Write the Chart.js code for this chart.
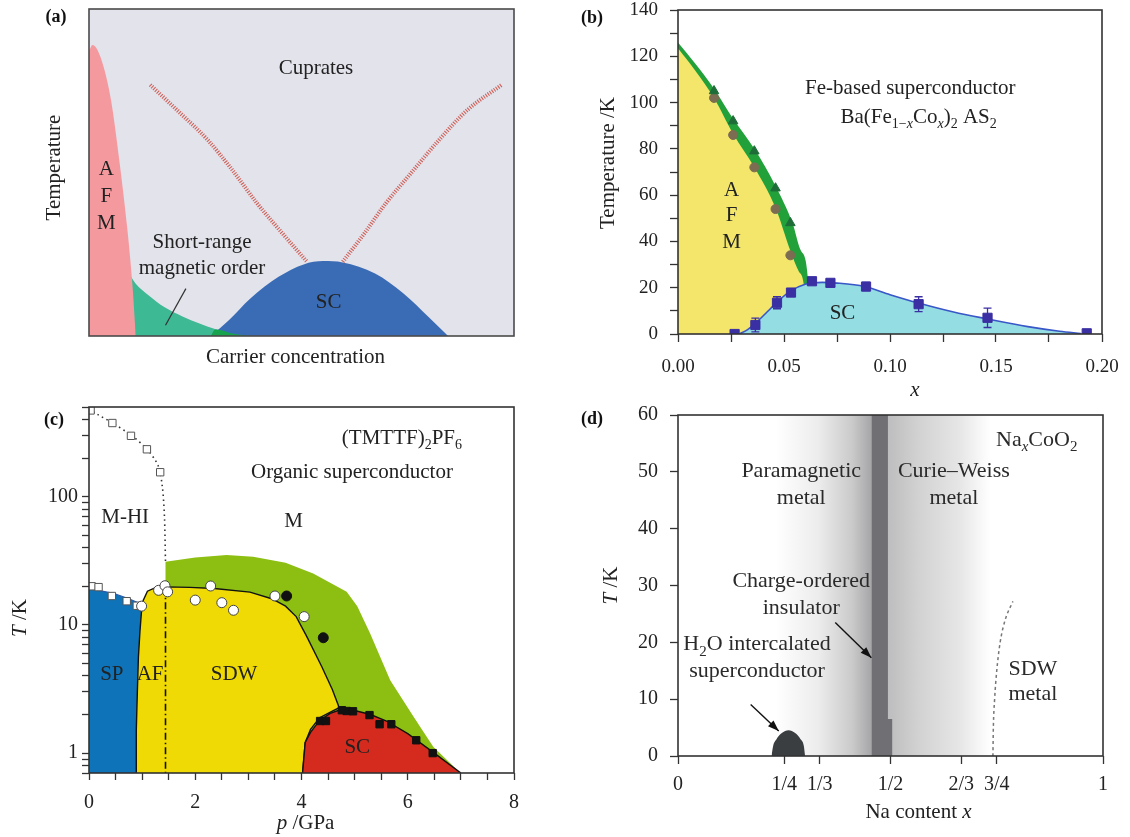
<!DOCTYPE html>
<html>
<head>
<meta charset="utf-8">
<script src="https://cdn.jsdelivr.net/npm/chart.js@4.4.1/dist/chart.umd.min.js"></script>
<style>
  body { margin: 0; background: #fff; width: 1130px; height: 837px; position: relative; overflow: hidden; }
  canvas { position: absolute; }
</style>
</head>
<body>
<canvas id="chartA" width="565" height="405" style="left:0;top:0"></canvas>
<canvas id="chartB" width="565" height="405" style="left:565px;top:0"></canvas>
<canvas id="chartC" width="565" height="447" style="left:0;top:390px"></canvas>
<canvas id="chartD" width="565" height="447" style="left:565px;top:390px"></canvas>
<script>
// (a) cuprates - schematic, axes in arbitrary units 0..1
const cupAfmX = [0, 0.008, 0.02, 0.035, 0.052, 0.073, 0.09, 0.102, 0.11];
const cupAfmY = [0.87, 0.89, 0.875, 0.82, 0.72, 0.52, 0.33, 0.16, 0];
const cupSroX = [0.09, 0.11, 0.14, 0.178, 0.22, 0.26, 0.30, 0.34, 0.38];
const cupSroY = [0.2, 0.16, 0.125, 0.088, 0.06, 0.038, 0.02, 0.007, 0];
const cupMixX = [0.287, 0.295, 0.30, 0.34, 0.38];
const cupMixY = [0, 0.018, 0.02, 0.007, 0];
const cupScX = [0.287, 0.329, 0.379, 0.446, 0.505, 0.551, 0.597, 0.673, 0.74, 0.799, 0.845];
const cupScY = [0, 0.048, 0.114, 0.181, 0.219, 0.229, 0.225, 0.191, 0.13, 0.058, 0];
const cupPgLX = [0.144, 0.211, 0.279, 0.337, 0.396, 0.455, 0.513];
const cupPgLY = [0.768, 0.686, 0.6, 0.508, 0.405, 0.314, 0.227];
const cupPgRX = [0.597, 0.648, 0.698, 0.757, 0.824, 0.891, 0.971];
const cupPgRY = [0.227, 0.314, 0.405, 0.497, 0.6, 0.692, 0.768];

// (b) Ba(Fe1-xCox)2As2
const fePtX = [0.017, 0.026, 0.036, 0.046, 0.053];
const feTnY = [102, 86, 72, 54, 34];
const feTsY = [105, 92, 79, 63, 48];
const feTnLineX = [0, 0.008, 0.017, 0.026, 0.036, 0.046, 0.053, 0.057, 0.0595, 0.0605];
const feTnLineY = [123.5, 114, 102, 86.5, 72, 54.5, 36, 27, 20, 0];
const feTsLineX = [0, 0.008, 0.017, 0.026, 0.036, 0.046, 0.054, 0.058, 0.0615, 0.062];
const feTsLineY = [126, 117, 106, 93, 80, 64, 48, 36, 22, 0];
const feScX = [0.0267, 0.0365, 0.0467, 0.0533, 0.0632, 0.0719, 0.0887, 0.1135, 0.146, 0.1928];
const feScY = [0, 3.9, 13.5, 17.9, 22.8, 22.1, 20.5, 12.9, 7.0, 0.3];
const feScErr = [0, 3, 2.6, 0.8, 1, 0.8, 1.8, 3.2, 4.2, 0];
const feScLineX = [0.029, 0.033, 0.037, 0.042, 0.047, 0.053, 0.06, 0.068, 0.075, 0.088, 0.1, 0.113, 0.13, 0.146, 0.165, 0.18, 0.19];
const feScLineY = [0, 2, 5, 9.5, 14, 18.5, 21.5, 22.3, 22, 20.5, 17, 13.5, 9.5, 6.5, 3.2, 1.2, 0.2];

// (c) (TMTTF)2PF6, log temperature
const orgLogTicks = [0.7, 0.8, 0.9, 1, 2, 3, 4, 5, 6, 7, 8, 9, 10, 20, 30, 40, 50, 60, 70, 80, 90, 100, 200, 300, 400, 500];
const orgLogLabels = [1, 10, 100];
const orgMX = [1.44, 1.44, 2.0, 2.59, 3.09, 3.7, 4.22, 4.85, 5.05, 5.29, 5.67, 6.11, 6.48, 6.99, 1.44];
const orgMY = [0.7, 31, 33.5, 35, 34, 30.5, 25.2, 18.1, 14, 8.6, 3.7, 1.92, 1.12, 0.7, 0.7];
const orgSpX = [0, 0.2, 0.46, 0.75, 0.96, 1.05, 1.05, 0];
const orgSpY = [19.3, 18.5, 17.6, 16, 14.7, 14.2, 0.7, 0.7];
const orgSdwX = [0.885, 0.89, 0.91, 0.93, 0.96, 0.99, 1.02, 1.1, 1.25, 1.44, 1.9, 2.36, 3.03, 3.44, 3.7, 3.9, 4.1, 4.38, 4.58, 4.71, 4.58, 4.34, 4.17, 4.07, 4.02];
const orgSdwY = [0.7, 1.5, 3, 5.6, 9, 13, 15.5, 18.3, 19.5, 19.8, 19.6, 19.2, 18.0, 16.0, 14.0, 11.6, 8.1, 4.74, 3.13, 2.26, 2.13, 1.89, 1.53, 1.21, 0.7];
const orgScX = [4.02, 4.07, 4.17, 4.34, 4.54, 4.73, 5.0, 5.3, 5.6, 6.0, 6.5, 7.0];
const orgScY = [0.7, 1.21, 1.45, 1.8, 2.04, 2.18, 2.15, 2.0, 1.78, 1.42, 1.0, 0.7];
const orgHiX = [0, 0.15, 0.42, 0.8, 1.09, 1.3, 1.38, 1.42, 1.44];
const orgHiY = [480, 440, 380, 300, 235, 175, 120, 70, 31];
const orgAfX = [1.44, 1.44];
const orgAfY = [19.5, 0.7];
const orgOpenSqX = [0.03, 0.44, 0.79, 1.09, 1.34, 0.05, 0.18, 0.43, 0.71, 0.9];
const orgOpenSqY = [470, 375, 298, 234, 155, 20, 19.7, 16.8, 15.3, 14.1];
const orgOpenCircX = [0.99, 1.31, 1.43, 1.48, 2.0, 2.29, 2.5, 2.72, 3.5, 4.05];
const orgOpenCircY = [14.0, 18.6, 20.2, 18.1, 15.6, 20.1, 14.9, 13.0, 16.8, 11.6];
const orgFullCircX = [3.72, 4.41];
const orgFullCircY = [16.8, 7.94];
const orgFullSqX = [4.35, 4.46, 4.76, 4.85, 4.97, 5.28, 5.47, 5.69, 6.16, 6.47];
const orgFullSqY = [1.78, 1.78, 2.16, 2.13, 2.12, 1.98, 1.68, 1.68, 1.26, 1.0];

// (d) NaxCoO2
const naTickX = [0, 0.25, 1 / 3, 0.5, 2 / 3, 0.75, 1];
const naTickLabels = ['0', '1/4', '1/3', '1/2', '2/3', '3/4', '1'];
const naParaX = [0.23, 0.23, 0.455, 0.455];
const naParaY = [0, 60, 60, 0];
const naCurieX = [0.494, 0.494, 0.735, 0.735];
const naCurieY = [0, 60, 60, 0];
const naCoX = [0.455, 0.455, 0.494, 0.494, 0.504, 0.504];
const naCoY = [0, 60, 60, 6.5, 6.5, 0];
const naScX = [0.22, 0.224, 0.232, 0.242, 0.252, 0.26, 0.268, 0.278, 0.288, 0.296, 0.299];
const naScY = [0, 1.8, 3.0, 3.9, 4.4, 4.55, 4.4, 3.9, 3.0, 1.8, 0];
const naSdwX = [0.741, 0.742, 0.745, 0.75, 0.758, 0.77, 0.788];
const naSdwY = [0, 5, 10, 15, 20, 24, 27.2];

const serif = '"Liberation Serif", "Times New Roman", Times, serif';

function xy(xs, ys) { return xs.map((x, i) => ({ x: x, y: ys[i] })); }

// first dataset in the list is painted first (bottom)
function stack(list) {
  list.forEach((d, i) => { d.order = list.length - i; });
  return list;
}
function area(xs, ys, color, fill, extra) {
  return Object.assign({ data: xy(xs, ys), fill: fill, backgroundColor: color,
    borderColor: 'rgba(0,0,0,0)', borderWidth: 1, pointRadius: 0 }, extra || {});
}
function curve(xs, ys, color, width, extra) {
  return Object.assign({ data: xy(xs, ys), fill: false, borderColor: color,
    borderWidth: width, pointRadius: 0 }, extra || {});
}
function markers(xs, ys, style, r, fillC, edgeC, extra) {
  return Object.assign({ data: xy(xs, ys), showLine: false, fill: false, pointStyle: style,
    pointRadius: r, pointBackgroundColor: fillC, pointBorderColor: edgeC, pointBorderWidth: 1 }, extra || {});
}
function hGrad(stops) {
  return function (c) {
    const ch = c.chart;
    if (!ch.chartArea || !c.dataset) return stops[0][1];
    const xs = c.dataset.data.map(p => p.x);
    const x0 = ch.scales.x.getPixelForValue(Math.min.apply(null, xs));
    const x1 = ch.scales.x.getPixelForValue(Math.max.apply(null, xs));
    const g = ch.ctx.createLinearGradient(x0, 0, x1, 0);
    stops.forEach(s => g.addColorStop(s[0], s[1]));
    return g;
  };
}

function fontFor(style, size) {
  const sub = style.indexOf('s') >= 0;
  return (style.indexOf('b') >= 0 ? 'bold ' : '') + (style.indexOf('i') >= 0 ? 'italic ' : '') +
    Math.round(sub ? size * 0.68 : size) + 'px ' + serif;
}
function toParts(t) { return typeof t === 'string' ? [[t, '']] : t; }
function drawRich(ctx, parts, x, y, size, color) {
  let w = 0;
  parts.forEach(p => { ctx.font = fontFor(p[1], size); w += ctx.measureText(p[0]).width; });
  let cx = x - w / 2;
  ctx.fillStyle = color;
  ctx.textAlign = 'left';
  ctx.textBaseline = 'middle';
  parts.forEach(p => {
    ctx.font = fontFor(p[1], size);
    ctx.fillText(p[0], cx, y + (p[1].indexOf('s') >= 0 ? size * 0.32 : 0));
    cx += ctx.measureText(p[0]).width;
  });
}

// annotations per panel (text positions are in data units)
const panelNotes = {
  chartA: {
    bg: '#E3E3EC', frame: '#4a4a4a', size: 21, color: '#222', letter: '(a)', letterAt: [-33, 8],
    texts: [
      { text: 'Cuprates', at: [0.534, 0.819] },
      { text: 'A', at: [0.041, 0.508] }, { text: 'F', at: [0.041, 0.426] }, { text: 'M', at: [0.041, 0.344] },
      { text: 'Short-range', at: [0.266, 0.285] }, { text: 'magnetic order', at: [0.266, 0.206] },
      { text: 'SC', at: [0.564, 0.104] }
    ],
    lines: [{ from: [0.228, 0.145], to: [0.18, 0.033], color: '#333', width: 1.2 }],
    titles: [
      { text: 'Temperature', side: 'left', dx: -35, dy: -5 },
      { text: 'Carrier concentration', side: 'bottom', dx: -6, dy: 21 }
    ]
  },
  chartB: {
    frame: '#333', size: 21, color: '#222', letter: '(b)', letterAt: [-86, 8],
    texts: [
      { text: 'Fe-based superconductor', at: [0.1096, 105.9] },
      { text: [['Ba(Fe', ''], ['1\u2212', 's'], ['x', 'si'], ['Co', ''], ['x', 'si'], [')', ''], ['2', 's'], [' AS', ''], ['2', 's']], at: [0.1135, 93.4] },
      { text: 'A', at: [0.0253, 61.9] }, { text: 'F', at: [0.0253, 51.1] }, { text: 'M', at: [0.0253, 39.7] },
      { text: 'SC', at: [0.0776, 8.9] }
    ],
    lines: [],
    titles: [
      { text: 'Temperature /K', side: 'left', dx: -70, dy: -9 },
      { text: [['x', 'i']], side: 'bottom', dx: 25, dy: 56 }
    ]
  },
  chartC: {
    frame: '#333', size: 21, color: '#222', letter: '(c)', letterAt: [-35, 13],
    texts: [
      { text: [['(TMTTF)', ''], ['2', 's'], ['PF', ''], ['6', 's']], at: [5.89, 286] },
      { text: 'Organic superconductor', at: [4.95, 155] },
      { text: 'M-HI', at: [0.68, 68.8] }, { text: 'M', at: [3.85, 64.3] },
      { text: 'SP', at: [0.43, 4.08] }, { text: 'AF', at: [1.15, 4.08] },
      { text: 'SDW', at: [2.73, 4.08] }, { text: 'SC', at: [5.05, 1.1] }
    ],
    lines: [],
    titles: [
      { text: [['T', 'i'], [' /K', '']], side: 'left', dx: -69, dy: 28 },
      { text: [['p', 'i'], [' /GPa', '']], side: 'bottom', dx: 4, dy: 50 }
    ]
  },
  chartD: {
    frame: '#333', size: 22, color: '#2a2a2a', letter: '(d)', letterAt: [-86, 4],
    texts: [
      { text: [['Na', ''], ['x', 'si'], ['CoO', ''], ['2', 's']], at: [0.844, 55.6] },
      { text: 'Paramagnetic', at: [0.29, 50.06] }, { text: 'metal', at: [0.29, 45.4] },
      { text: 'Curie\u2013Weiss', at: [0.649, 50.06] }, { text: 'metal', at: [0.649, 45.4] },
      { text: 'Charge-ordered', at: [0.29, 30.7] }, { text: 'insulator', at: [0.29, 26.05] },
      { text: [['H', ''], ['2', 's'], ['O intercalated', '']], at: [0.186, 19.6] },
      { text: 'superconductor', at: [0.186, 14.9] },
      { text: 'SDW', at: [0.835, 15.2] }, { text: 'metal', at: [0.835, 10.8] }
    ],
    lines: [
      { from: [0.37, 23.5], to: [0.455, 17.3], color: '#111', width: 1.4, arrow: true },
      { from: [0.171, 9.07], to: [0.237, 4.4], color: '#111', width: 1.4, arrow: true }
    ],
    titles: [
      { text: [['T', 'i'], [' /K', '']], side: 'left', dx: -67, dy: 0 },
      { text: [['Na content ', ''], ['x', 'i']], side: 'bottom', dx: 28, dy: 56 }
    ]
  }
};

const notesPlugin = {
  id: 'panelNotes',
  beforeDraw(chart) {
    const n = panelNotes[chart.canvas.id], a = chart.chartArea, ctx = chart.ctx;
    if (n.bg) {
      ctx.save();
      ctx.fillStyle = n.bg;
      ctx.fillRect(a.left, a.top, a.right - a.left, a.bottom - a.top);
      ctx.restore();
    }
  },
  beforeDatasetDraw(chart, args) {
    const ds = chart.data.datasets[args.index];
    if (!ds.errorBars) return;
    const ctx = chart.ctx, sy = chart.scales.y;
    ctx.save();
    ctx.strokeStyle = ds.pointBackgroundColor;
    ctx.lineWidth = 1.3;
    args.meta.data.forEach((pt, j) => {
      const e = ds.errorBars[j];
      if (!e) return;
      const y0 = sy.getPixelForValue(ds.data[j].y - e), y1 = sy.getPixelForValue(ds.data[j].y + e);
      ctx.beginPath();
      ctx.moveTo(pt.x, y0); ctx.lineTo(pt.x, y1);
      ctx.moveTo(pt.x - 4, y0); ctx.lineTo(pt.x + 4, y0);
      ctx.moveTo(pt.x - 4, y1); ctx.lineTo(pt.x + 4, y1);
      ctx.stroke();
    });
    ctx.restore();
  },
  afterDatasetsDraw(chart) {
    const n = panelNotes[chart.canvas.id], a = chart.chartArea, ctx = chart.ctx;
    const sx = chart.scales.x, sy = chart.scales.y;
    ctx.save();
    n.lines.forEach(l => {
      const x1 = sx.getPixelForValue(l.from[0]), y1 = sy.getPixelForValue(l.from[1]);
      const x2 = sx.getPixelForValue(l.to[0]), y2 = sy.getPixelForValue(l.to[1]);
      ctx.strokeStyle = l.color; ctx.fillStyle = l.color; ctx.lineWidth = l.width;
      ctx.beginPath(); ctx.moveTo(x1, y1); ctx.lineTo(x2, y2); ctx.stroke();
      if (l.arrow) {
        const ang = Math.atan2(y2 - y1, x2 - x1), L = 11, W = 4;
        const bx = x2 - L * Math.cos(ang), by = y2 - L * Math.sin(ang);
        ctx.beginPath();
        ctx.moveTo(x2, y2);
        ctx.lineTo(bx + W * Math.sin(ang), by - W * Math.cos(ang));
        ctx.lineTo(bx - W * Math.sin(ang), by + W * Math.cos(ang));
        ctx.closePath(); ctx.fill();
      }
    });
    ctx.strokeStyle = n.frame;
    ctx.lineWidth = 1.6;
    ctx.strokeRect(a.left, a.top, a.right - a.left, a.bottom - a.top);
    n.texts.forEach(t => drawRich(ctx, toParts(t.text), sx.getPixelForValue(t.at[0]), sy.getPixelForValue(t.at[1]), n.size, n.color));
    n.titles.forEach(t => {
      let x, y;
      if (t.side === 'left') { x = a.left + t.dx; y = (a.top + a.bottom) / 2 + t.dy; }
      else { x = (a.left + a.right) / 2 + t.dx; y = a.bottom + t.dy; }
      ctx.save();
      ctx.translate(x, y);
      if (t.side === 'left') ctx.rotate(-Math.PI / 2);
      drawRich(ctx, toParts(t.text), 0, 0, 21, '#222');
      ctx.restore();
    });
    drawRich(ctx, [[n.letter, 'b']], a.left + n.letterAt[0], a.top + n.letterAt[1], 18, '#111');
    ctx.restore();
  }
};

function baseOptions(top, right, scales) {
  return {
    responsive: false, animation: false, devicePixelRatio: 1,
    layout: { padding: { left: 0, top: top, right: right, bottom: 0 }, autoPadding: false },
    plugins: { legend: { display: false }, tooltip: { enabled: false } },
    scales: scales
  };
}
// fix the axis box size and drop the label overflow padding so the plot box stays where it is
function fixWidth(w) {
  return s => { s.width = w; s.paddingTop = 0; s.paddingBottom = 0; };
}
function fixHeight(h) {
  return s => { s.height = h; s.paddingLeft = 0; s.paddingRight = 0; };
}
function tickAxis(extra, tickLen, fit) {
  return Object.assign({
    grid: { display: true, drawOnChartArea: false, drawTicks: true, tickLength: tickLen, tickColor: '#333', tickWidth: 1.3 },
    border: { display: false },
    afterFit: fit
  }, extra);
}
const tickText = size => ({ family: serif, size: size });

// ---- (a)
new Chart(document.getElementById('chartA'), {
  type: 'line',
  data: { datasets: stack([
    area(cupSroX, cupSroY, '#3DB994', 'origin', { cubicInterpolationMode: 'monotone' }),
    area(cupAfmX, cupAfmY, '#F49A9F', 'origin', { cubicInterpolationMode: 'monotone' }),
    area(cupScX, cupScY, '#3A6CB6', 'origin', { cubicInterpolationMode: 'monotone' }),
    area(cupMixX, cupMixY, '#17A24E', 'origin', { cubicInterpolationMode: 'monotone' }),
    curve(cupPgLX, cupPgLY, '#CF6158', 4, { borderDash: [1.1, 1.4], cubicInterpolationMode: 'monotone' }),
    curve(cupPgRX, cupPgRY, '#CF6158', 4, { borderDash: [1.1, 1.4], cubicInterpolationMode: 'monotone' })
  ]) },
  options: baseOptions(9, 51, {
    x: { type: 'linear', min: 0, max: 1, grid: { display: false }, ticks: { display: false }, border: { display: false },
         afterFit: fixHeight(69) },
    y: { type: 'linear', min: 0, max: 1, grid: { display: false }, ticks: { display: false }, border: { display: false },
         afterFit: fixWidth(89) }
  }),
  plugins: [notesPlugin]
});

// ---- (b)
new Chart(document.getElementById('chartB'), {
  type: 'line',
  data: { datasets: stack([
    area(feTsLineX, feTsLineY, '#22A03A', 'origin', { cubicInterpolationMode: 'monotone' }),
    area(feTnLineX, feTnLineY, '#F3E66A', 'origin', { cubicInterpolationMode: 'monotone' }),
    area(feScLineX, feScLineY, '#93DDE3', 'origin', { cubicInterpolationMode: 'monotone', borderColor: '#3A57C8', borderWidth: 1.6 }),
    markers(fePtX, feTnY, 'circle', 4.5, '#7B6C52', '#7B6C52'),
    markers(fePtX, feTsY, 'triangle', 5.5, '#1E6D38', '#1E6D38'),
    markers(feScX, feScY, 'rect', 6.5, '#3A2FA3', '#3A2FA3', { errorBars: feScErr })
  ]) },
  options: baseOptions(10, 28, {
    x: tickAxis({ type: 'linear', min: 0, max: 0.2,
      ticks: { stepSize: 0.025, autoSkip: false, maxRotation: 0, padding: 14, color: '#222', font: tickText(19),
               callback: v => (Math.round(v * 1000) % 50 === 0 ? v.toFixed(2) : '') } }, 8, fixHeight(71)),
    y: tickAxis({ type: 'linear', min: 0, max: 140,
      ticks: { stepSize: 10, autoSkip: false, padding: 12, color: '#222', font: tickText(19),
               callback: v => (v % 20 === 0 ? String(v) : '') } }, 8, fixWidth(113))
  }),
  plugins: [notesPlugin]
});

// ---- (c)
new Chart(document.getElementById('chartC'), {
  type: 'line',
  data: { datasets: stack([
    area(orgMX, orgMY, '#8DBF12', 'shape'),
    area(orgSpX, orgSpY, '#0E73B8', 'shape', { borderColor: '#2A5CAA', borderWidth: 1.2 }),
    area(orgSdwX, orgSdwY, '#F0DA06', 'shape', { borderColor: '#111', borderWidth: 1.4 }),
    area(orgScX, orgScY, '#D42B1E', 'shape', { borderColor: '#111', borderWidth: 1.4 }),
    curve(orgHiX, orgHiY, '#333', 1.6, { borderDash: [1.5, 3.5], tension: 0.3 }),
    curve(orgAfX, orgAfY, '#111', 1.6, { borderDash: [7, 3, 1.5, 3] }),
    markers(orgOpenSqX, orgOpenSqY, 'rect', 5.2, '#fff', '#555'),
    markers(orgOpenCircX, orgOpenCircY, 'circle', 5, '#fff', '#444'),
    markers(orgFullCircX, orgFullCircY, 'circle', 5, '#111', '#111'),
    markers(orgFullSqX, orgFullSqY, 'rect', 5.2, '#111', '#111')
  ]) },
  options: baseOptions(17, 51, {
    x: tickAxis({ type: 'linear', min: 0, max: 8,
      ticks: { stepSize: 0.5, autoSkip: false, maxRotation: 0, padding: 11, color: '#222', font: tickText(20),
               callback: v => (v % 2 === 0 ? String(v) : '') } }, 7, fixHeight(64)),
    y: tickAxis({ type: 'logarithmic', min: 0.7, max: 500,
      afterBuildTicks: s => { s.ticks = orgLogTicks.map(v => ({ value: v })); },
      ticks: { autoSkip: false, padding: 4, color: '#222', font: tickText(20),
               callback: v => (orgLogLabels.indexOf(v) >= 0 ? String(v) : '') } }, 7, fixWidth(89))
  }),
  plugins: [notesPlugin]
});

// ---- (d)
new Chart(document.getElementById('chartD'), {
  type: 'line',
  data: { datasets: stack([
    area(naParaX, naParaY, hGrad([[0, '#FFFFFF'], [0.45, '#ECECEC'], [0.8, '#CACACA'], [1, '#A6A6A9']]), 'shape'),
    area(naCurieX, naCurieY, hGrad([[0, '#BDBDBF'], [0.3, '#D2D2D2'], [0.7, '#E6E6E6'], [1, '#FFFFFF']]), 'shape'),
    area(naCoX, naCoY, '#707074', 'shape'),
    area(naScX, naScY, '#3B3E41', 'origin', { cubicInterpolationMode: 'monotone' }),
    curve(naSdwX, naSdwY, '#777', 1.5, { borderDash: [3, 3], cubicInterpolationMode: 'monotone' })
  ]) },
  options: baseOptions(25, 27, {
    x: tickAxis({ type: 'linear', min: 0, max: 1,
      afterBuildTicks: s => { s.ticks = naTickX.map(v => ({ value: v })); },
      ticks: { autoSkip: false, maxRotation: 0, padding: 9, color: '#222', font: tickText(20),
               callback: (v, i) => naTickLabels[i] } }, 8, fixHeight(81)),
    y: tickAxis({ type: 'linear', min: 0, max: 60,
      ticks: { stepSize: 10, autoSkip: false, padding: 12, color: '#222', font: tickText(20) } }, 8, fixWidth(113))
  }),
  plugins: [notesPlugin]
});
</script>
</body>
</html>
